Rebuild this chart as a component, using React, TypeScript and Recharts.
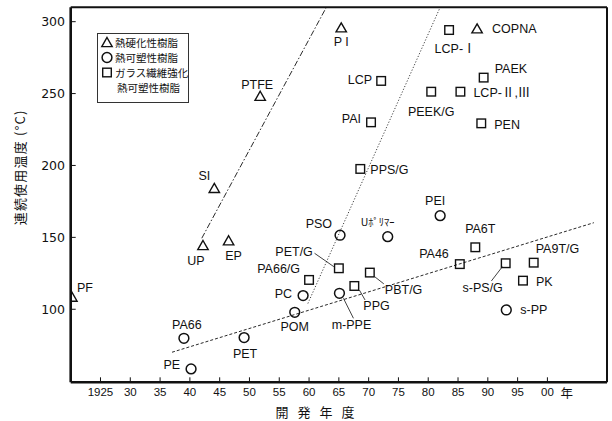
import React from 'react';
import { ScatterChart, Scatter, XAxis, YAxis, ReferenceLine, Legend } from 'recharts';

// ---- data ----
const thermosetNames = ['PF', 'UP', 'EP', 'SI', 'PTFE', 'P I', 'COPNA'];
const thermosetYears = [1920.2, 1942.2, 1946.5, 1944.1, 1951.8, 1965.4, 1988.2];
const thermosetTemps = [108.1, 144.0, 147.3, 183.7, 247.8, 295.4, 294.7];

const thermoplasticNames = ['PE', 'PA66', 'PET', 'POM', 'PC', 'm-PPE', 'PSO', 'Uﾎﾟﾘﾏｰ', 'PEI', 's-PP'];
const thermoplasticYears = [1940.2, 1939.0, 1949.1, 1957.6, 1959.0, 1965.1, 1965.2, 1973.2, 1982.0, 1993.1];
const thermoplasticTemps = [58.5, 79.8, 80.3, 97.9, 109.5, 111.1, 151.5, 150.5, 165.1, 99.5];

const glassNames = ['PA66/G', 'PET/G', 'PPG', 'PBT/G', 'PA46', 'PA6T', 's-PS/G', 'PA9T/G', 'PK', 'PPS/G', 'PAI', 'LCP', 'PEEK/G', 'LCP-Ⅱ,Ⅲ', 'LCP-Ⅰ', 'PAEK', 'PEN'];
const glassYears = [1960.0, 1965.0, 1967.6, 1970.2, 1985.3, 1987.9, 1993.0, 1997.7, 1995.9, 1968.6, 1970.4, 1972.1, 1980.5, 1985.4, 1983.5, 1989.3, 1988.9];
const glassTemps = [120.4, 128.5, 116.2, 125.5, 131.4, 143.1, 132.0, 132.4, 119.9, 197.6, 230.0, 258.8, 251.3, 251.3, 294.2, 261.1, 229.3];

const thermosetTrend = [{ year: 1942.0, temp: 149.4 }, { year: 1962.9, temp: 310 }];
const thermoplasticTrend = [{ year: 1959.8, temp: 104.0 }, { year: 1982.0, temp: 310 }];
const glassTrend = [{ year: 1937.0, temp: 70.1 }, { year: 2007.8, temp: 160.2 }];

const xTicks = [1925, 1930, 1935, 1940, 1945, 1950, 1955, 1960, 1965, 1970, 1975, 1980, 1985, 1990, 1995, 2000];
const yTicks = [100, 150, 200, 250, 300];

const legendLabels = ['熱硬化性樹脂', '熱可塑性樹脂', 'ガラス繊維強化', '熱可塑性樹脂'];
const yAxisTitle = '連続使用温度 (°C)';
const xAxisTitleChars = ['開', '発', '年', '度'];
const xAxisUnit = '年';

// ---- layout (label placement only) ----
type Lay = { dx: number; dy: number; a: 'start' | 'middle' | 'end'; leader?: [number, number, number, number] };
const labelLayout: Record<string, Lay> = {
  PF: { dx: 5, dy: -9.5, a: 'start' },
  UP: { dx: -7, dy: 15, a: 'middle' },
  EP: { dx: 5, dy: 15, a: 'middle' },
  SI: { dx: -10, dy: -13, a: 'middle' },
  PTFE: { dx: -3, dy: -12, a: 'middle' },
  'P I': { dx: 0, dy: 14, a: 'middle' },
  COPNA: { dx: 15, dy: 0, a: 'start' },
  'LCP-Ⅰ': { dx: 6, dy: 19, a: 'middle' },
  PAEK: { dx: 11, dy: -9, a: 'start' },
  LCP: { dx: -9, dy: -1, a: 'end' },
  'PEEK/G': { dx: 0, dy: 20, a: 'middle' },
  'LCP-Ⅱ,Ⅲ': { dx: 13, dy: 1.5, a: 'start' },
  PAI: { dx: -10, dy: -3, a: 'end' },
  PEN: { dx: 13, dy: 2, a: 'start' },
  'PPS/G': { dx: 10, dy: 1, a: 'start' },
  PEI: { dx: -5, dy: -15, a: 'middle' },
  PSO: { dx: -8, dy: -11, a: 'end' },
  'Uﾎﾟﾘﾏｰ': { dx: -10, dy: -15, a: 'middle' },
  PA6T: { dx: 5, dy: -18, a: 'middle' },
  PA46: { dx: -11, dy: -10, a: 'end' },
  'PA9T/G': { dx: 2, dy: -14, a: 'start' },
  's-PS/G': { dx: -23, dy: 25, a: 'middle', leader: [-3.3, 3.4, -14.3, 17.7] },
  PK: { dx: 13, dy: 1, a: 'start' },
  's-PP': { dx: 14, dy: 0, a: 'start' },
  'PBT/G': { dx: 15, dy: 17, a: 'start', leader: [4.7, 4, 14, 11.3] },
  PPG: { dx: 9, dy: 20, a: 'start', leader: [5, 4, 10.7, 14] },
  'm-PPE': { dx: 12, dy: 32, a: 'middle', leader: [4, 5, 14, 25] },
  'PET/G': { dx: -26, dy: -16, a: 'end', leader: [-24.3, -15, -5, -1.6] },
  'PA66/G': { dx: -9, dy: -11, a: 'end' },
  PC: { dx: -11, dy: -2, a: 'end' },
  POM: { dx: 0, dy: 15, a: 'middle' },
  PA66: { dx: 3, dy: -13, a: 'middle' },
  PET: { dx: 1, dy: 16, a: 'middle' },
  PE: { dx: -11, dy: -4, a: 'end' },
};

const INK = '#111';
const LABEL_FONT = '"Liberation Sans", Arial, "Noto Sans CJK JP", sans-serif';
const JP_FONT = '"Noto Sans CJK JP", sans-serif';

const build = (names: string[], years: number[], temps: number[]) =>
  names.map((name, i) => ({ name, year: years[i], temp: temps[i] }));

const thermoset = build(thermosetNames, thermosetYears, thermosetTemps);
const thermoplastic = build(thermoplasticNames, thermoplasticYears, thermoplasticTemps);
const glass = build(glassNames, glassYears, glassTemps);

function markGlyph(kind: string, cx: number, cy: number) {
  if (kind === 'tri')
    return <polygon points={`${cx},${cy - 5.5} ${cx + 5.2},${cy + 3.6} ${cx - 5.2},${cy + 3.6}`} fill="none" stroke={INK} strokeWidth={1.4} />;
  if (kind === 'circ') return <circle cx={cx} cy={cy} r={4.9} fill="none" stroke={INK} strokeWidth={1.5} />;
  return <rect x={cx - 4.3} y={cy - 4.3} width={8.6} height={8.6} fill="none" stroke={INK} strokeWidth={1.4} />;
}

const makeShape = (kind: string) => (props: any) => {
  const { cx, cy, payload } = props;
  if (cx == null || cy == null) return <g />;
  const lay = labelLayout[payload.name] || { dx: 8, dy: 0, a: 'start' };
  const small = payload.name === 'Uﾎﾟﾘﾏｰ';
  return (
    <g>
      {markGlyph(kind, cx, cy)}
      {lay.leader && (
        <line x1={cx + lay.leader[0]} y1={cy + lay.leader[1]} x2={cx + lay.leader[2]} y2={cy + lay.leader[3]} stroke={INK} strokeWidth={0.8} />
      )}
      <text
        x={cx + lay.dx}
        y={cy + lay.dy}
        textAnchor={lay.a}
        dominantBaseline="central"
        fontSize={small ? 10.5 : 12.5}
        fontFamily={small ? JP_FONT : LABEL_FONT}
        fill={INK}
      >
        {payload.name}
      </text>
    </g>
  );
};

const YTitle = (props: any) => {
  const vb = props.viewBox || { x: 10.7, y: 7.3, width: 60, height: 375 };
  const cx = vb.x + 9.3;
  const cy = vb.y + 160;
  return (
    <text
      x={cx}
      y={cy}
      textAnchor="middle"
      dominantBaseline="central"
      transform={`rotate(-90 ${cx} ${cy})`}
      fontFamily={JP_FONT}
      fontSize={13}
      letterSpacing={1.2}
      fill={INK}
    >
      {yAxisTitle}
    </text>
  );
};

const XTitle = (props: any) => {
  const vb = props.viewBox || { x: 70.7, y: 382.3, width: 536.3, height: 30 };
  return (
    <g fontFamily={JP_FONT} fill={INK}>
      {xAxisTitleChars.map((c, i) => (
        <text key={i} x={vb.x + 211.3 + i * 22} y={vb.y + 29.4} textAnchor="middle" dominantBaseline="central" fontSize={13}>
          {c}
        </text>
      ))}
      <text x={vb.x + 496} y={vb.y + 10} textAnchor="middle" dominantBaseline="central" fontSize={12.5}>
        {xAxisUnit}
      </text>
    </g>
  );
};

const LegendBox = () => {
  const rows = [9.5, 24.5, 39.5, 54.5];
  const starts = [18, 18, 18, 20];
  return (
    <svg width={92} height={70} style={{ display: 'block' }}>
      <rect x={0.5} y={0.5} width={91} height={69} fill="#fff" stroke="#333" strokeWidth={1} />
      {markGlyph('tri', 10, rows[0] + 0.5)}
      {markGlyph('circ', 10, rows[1])}
      {markGlyph('sq', 10, rows[2])}
      {legendLabels.map((t, i) => (
        <text key={i} x={starts[i]} y={rows[i]} dominantBaseline="central" fontSize={10.5} fontFamily={JP_FONT} fill={INK}>
          {t}
        </text>
      ))}
    </svg>
  );
};

const xFmt = (v: number) => (v === 1925 ? '1925' : v === 2000 ? '00' : String(v % 100));

export default function App() {
  return (
    <div style={{ position: 'absolute', left: 0, top: 0, width: 612, height: 421, background: '#fff', fontFamily: LABEL_FONT }}>
      <ScatterChart width={612} height={421} margin={{ top: 7.3, right: 5, left: 10.7, bottom: 8.7 }}>
        <XAxis
          dataKey="year"
          type="number"
          domain={[1920, 2010]}
          ticks={xTicks}
          tickFormatter={xFmt}
          allowDataOverflow
          height={30}
          tickSize={-5}
          tickMargin={11}
          interval={0}
          axisLine={{ stroke: INK, strokeWidth: 2.6 }}
          tickLine={{ stroke: INK, strokeWidth: 1 }}
          tick={{ fill: INK, fontSize: 11.5, fontFamily: LABEL_FONT }}
          label={(p: any) => <XTitle {...p} />}
        />
        <YAxis
          dataKey="temp"
          type="number"
          domain={[49.2, 310]}
          ticks={yTicks}
          allowDataOverflow
          width={60}
          tickSize={-5}
          tickMargin={10.7}
          interval={0}
          axisLine={{ stroke: INK, strokeWidth: 2.6 }}
          tickLine={{ stroke: INK, strokeWidth: 1 }}
          tick={{ fill: INK, fontSize: 12.5, fontFamily: '"DejaVu Sans", sans-serif' }}
          label={(p: any) => <YTitle {...p} />}
        />
        <ReferenceLine y={310} stroke={INK} strokeWidth={2} ifOverflow="visible" />
        <ReferenceLine x={2010} stroke={INK} strokeWidth={2} ifOverflow="visible" />
        <ReferenceLine
          segment={[{ x: thermosetTrend[0].year, y: thermosetTrend[0].temp }, { x: thermosetTrend[1].year, y: thermosetTrend[1].temp }]}
          stroke={INK}
          strokeWidth={0.9}
          strokeDasharray="6 2 1.5 2"
          ifOverflow="visible"
        />
        <ReferenceLine
          segment={[{ x: thermoplasticTrend[0].year, y: thermoplasticTrend[0].temp }, { x: thermoplasticTrend[1].year, y: thermoplasticTrend[1].temp }]}
          stroke={INK}
          strokeWidth={0.8}
          strokeDasharray="1.2 1.8"
          ifOverflow="visible"
        />
        <ReferenceLine
          segment={[{ x: glassTrend[0].year, y: glassTrend[0].temp }, { x: glassTrend[1].year, y: glassTrend[1].temp }]}
          stroke={INK}
          strokeWidth={0.9}
          strokeDasharray="3 2"
          ifOverflow="visible"
        />
        <Scatter name="熱硬化性樹脂" data={thermoset} shape={makeShape('tri')} isAnimationActive={false} />
        <Scatter name="熱可塑性樹脂" data={thermoplastic} shape={makeShape('circ')} isAnimationActive={false} />
        <Scatter name="ガラス繊維強化熱可塑性樹脂" data={glass} shape={makeShape('sq')} isAnimationActive={false} />
        <Legend
          layout="horizontal"
          verticalAlign="middle"
          content={() => <LegendBox />}
          wrapperStyle={{ position: 'absolute', left: 97, top: 33, width: 92, height: 70 }}
        />
      </ScatterChart>
    </div>
  );
}
